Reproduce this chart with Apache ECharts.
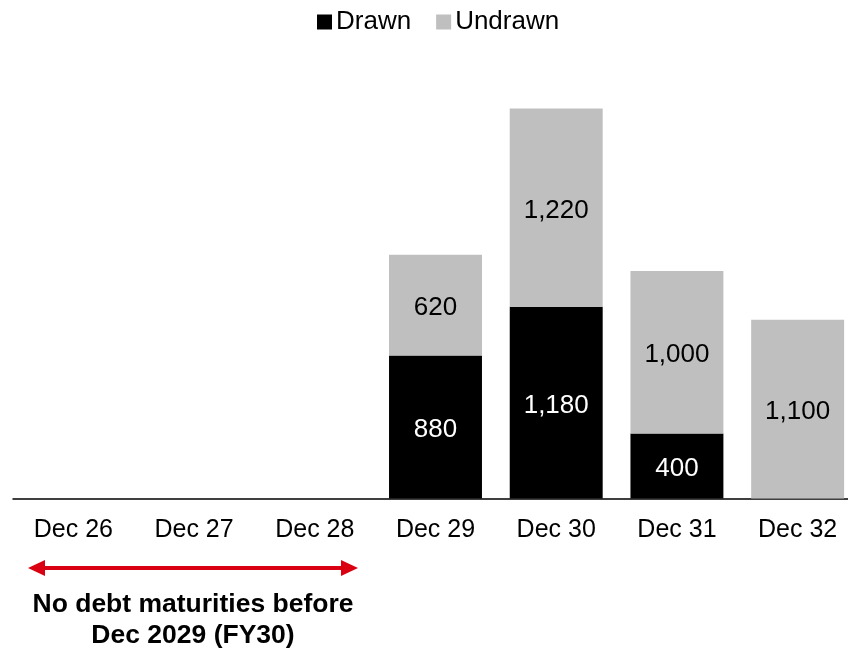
<!DOCTYPE html>
<html>
<head>
<meta charset="utf-8">
<script src="https://cdn.jsdelivr.net/npm/echarts@6/dist/echarts.min.js"></script>
<style>
html,body{margin:0;padding:0;background:#fff;}
#chart{width:848px;height:649px;}
</style>
</head>
<body>
<div id="chart"></div>
<script>
const categories = ['Dec 26','Dec 27','Dec 28','Dec 29','Dec 30','Dec 31','Dec 32'];
const drawn = [null, null, null, 880, 1180, 400, null];
const undrawn = [null, null, null, 620, 1220, 1000, 1100];
const seriesNames = ['Drawn', 'Undrawn'];
const noteLines = ['No debt maturities before', 'Dec 2029 (FY30)'];

const FONT = '"Liberation Sans", Arial, sans-serif';
const chart = echarts.init(document.getElementById('chart'), null, {renderer: 'canvas'});
const fmt = p => p.value == null ? '' : Number(p.value).toLocaleString('en-US');

chart.setOption({
  animation: false,
  textStyle: {fontFamily: FONT},
  legend: {
    data: seriesNames,
    top: 4,
    left: 312,
    icon: 'rect',
    itemWidth: 15,
    itemHeight: 15,
    itemGap: 25,
    textStyle: {fontSize: 26, color: '#000', fontFamily: FONT, padding: [0, 0, 0, -1]}
  },
  grid: {left: 13, top: 108.5, width: 845, bottom: 150.5, containLabel: false, outerBoundsMode: 'none'},
  xAxis: {
    type: 'category',
    data: categories,
    axisLine: {lineStyle: {color: '#000', width: 1.5}},
    axisTick: {show: false},
    axisLabel: {fontSize: 25, color: '#000', margin: 19, fontFamily: FONT}
  },
  yAxis: {
    type: 'value',
    min: 0,
    max: 2400,
    show: false,
    splitLine: {show: false}
  },
  series: [
    {
      name: seriesNames[0], type: 'bar', stack: 'total', data: drawn,
      barWidth: '77%',
      itemStyle: {color: '#000000'},
      label: {show: true, position: 'inside', offset: [0, 3], color: '#fff', fontSize: 26, fontFamily: FONT, formatter: fmt}
    },
    {
      name: seriesNames[1], type: 'bar', stack: 'total', data: undrawn,
      barWidth: '77%',
      itemStyle: {color: '#BFBFBF'},
      label: {show: true, position: 'inside', offset: [0, 3], color: '#000', fontSize: 26, fontFamily: FONT, formatter: fmt}
    }
  ],
  graphic: [
    {type: 'line', shape: {x1: 40, y1: 568, x2: 347, y2: 568}, style: {stroke: '#DB0011', lineWidth: 4}},
    {type: 'polygon', shape: {points: [[28, 568], [45, 560], [45, 576]]}, style: {fill: '#DB0011'}},
    {type: 'polygon', shape: {points: [[358, 568], [341, 560], [341, 576]]}, style: {fill: '#DB0011'}},
    {type: 'text', x: 193, y: 605, style: {text: noteLines[0], fontSize: 26.5, fontWeight: 'bold', fontFamily: FONT, fill: '#000', align: 'center', verticalAlign: 'middle'}},
    {type: 'text', x: 193, y: 636, style: {text: noteLines[1], fontSize: 26.5, fontWeight: 'bold', fontFamily: FONT, fill: '#000', align: 'center', verticalAlign: 'middle'}}
  ]
});
</script>
</body>
</html>
